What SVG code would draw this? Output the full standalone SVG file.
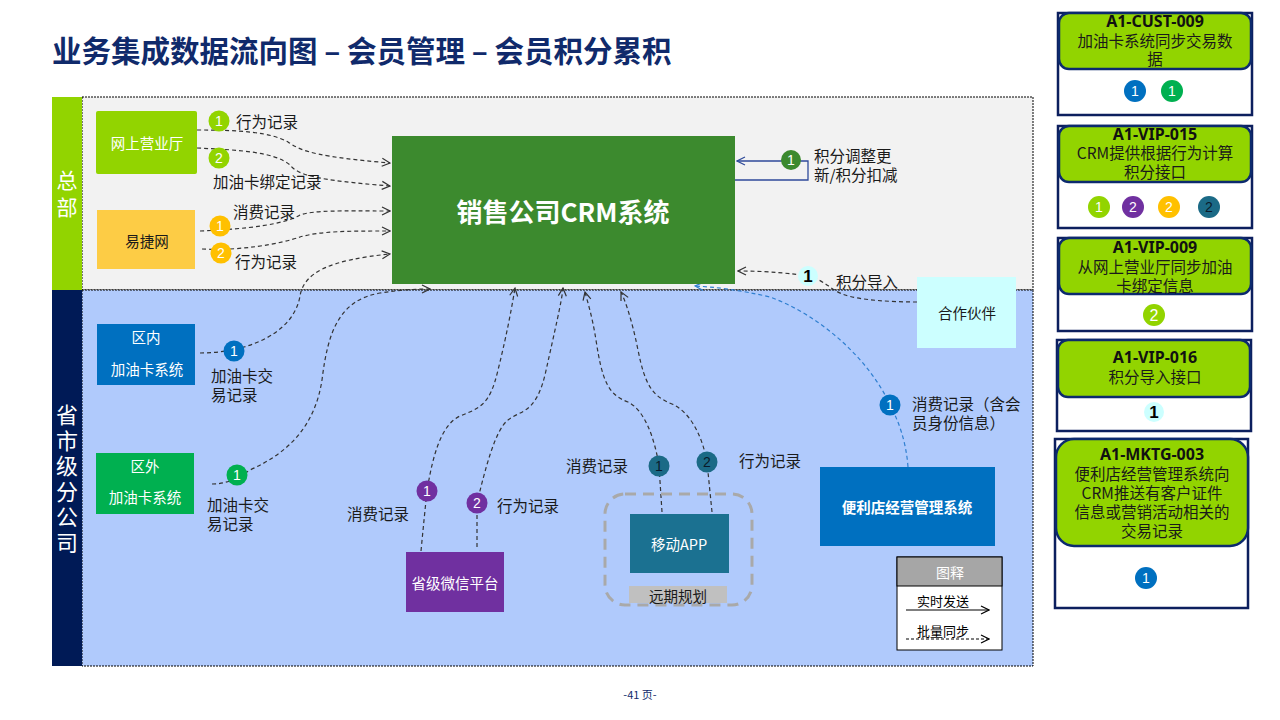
<svg xmlns="http://www.w3.org/2000/svg" width="1280" height="720" viewBox="0 0 1280 720">
<defs>
<style>
.t{font-family:"Noto Sans CJK SC","Liberation Sans",sans-serif;}
.lbl{font-family:"Noto Sans CJK SC","Liberation Sans",sans-serif;font-size:15.5px;fill:#1a1a1a;}
.nl{font-family:"Noto Sans CJK SC","Liberation Sans",sans-serif;font-size:14.5px;fill:#ffffff;text-anchor:middle;dominant-baseline:central;}
.bn{font-family:"Liberation Sans","Noto Sans",sans-serif;font-size:14px;fill:#ffffff;text-anchor:middle;dominant-baseline:central;}
.dash{fill:none;stroke:#333;stroke-width:1.2;stroke-dasharray:4 3;marker-end:url(#ah);}
.ct{font-family:"Noto Sans CJK SC","Liberation Sans",sans-serif;font-size:15.5px;fill:#1a1a1a;text-anchor:middle;}
.ch{font-family:"Noto Sans","Liberation Sans",sans-serif;font-size:16px;font-weight:bold;fill:#111;text-anchor:middle;dominant-baseline:central;}
.cardo{fill:#fff;stroke:#0c1f5e;stroke-width:2.5;}
.cardh{fill:#92d400;stroke:#0c2a6e;stroke-width:2.5;}
</style>
<marker id="ah" viewBox="0 0 10 10" refX="9" refY="5" markerWidth="10" markerHeight="10" markerUnits="userSpaceOnUse" orient="auto"><path d="M1,1 L9,5 L1,9" fill="none" stroke="#333" stroke-width="1.2"/></marker>
<marker id="ahb" viewBox="0 0 10 10" refX="9" refY="5" markerWidth="10" markerHeight="10" markerUnits="userSpaceOnUse" orient="auto"><path d="M1,1 L9,5 L1,9" fill="none" stroke="#2f7fd0" stroke-width="1.2"/></marker>
<marker id="ahn" viewBox="0 0 10 10" refX="9" refY="5" markerWidth="10" markerHeight="10" markerUnits="userSpaceOnUse" orient="auto"><path d="M1,1 L9,5 L1,9" fill="none" stroke="#2f4a9a" stroke-width="1.2"/></marker>
<marker id="ahk" viewBox="0 0 10 10" refX="9" refY="5" markerWidth="10" markerHeight="10" markerUnits="userSpaceOnUse" orient="auto"><path d="M1,1 L9,5 L1,9" fill="none" stroke="#000" stroke-width="1.2"/></marker>
</defs>
<rect width="1280" height="720" fill="#ffffff"/>

<!-- title -->
<text x="52" y="62" class="t" font-size="29.5" font-weight="bold" fill="#102a6b">业务集成数据流向图 – 会员管理 – 会员积分累积</text>

<!-- lanes -->
<g id="lanes">
<rect x="82" y="97" width="951" height="193" fill="#f2f2f2" stroke="#000" stroke-width="1" stroke-dasharray="2 1"/>
<rect x="82" y="290" width="951" height="376" fill="#b0cafc" stroke="#000" stroke-width="1" stroke-dasharray="2 1"/>
<rect x="52" y="97" width="30" height="193" fill="#92d400"/>
<rect x="52" y="290" width="30" height="376" fill="#001a56"/>
<text x="67" y="188" class="t" font-size="21" fill="#fff" text-anchor="middle"><tspan x="67">总</tspan><tspan x="67" dy="27">部</tspan></text>
<text x="67" y="423" class="t" font-size="22" fill="#fff" text-anchor="middle"><tspan x="67">省</tspan><tspan x="67" dy="25.5">市</tspan><tspan x="67" dy="25.5">级</tspan><tspan x="67" dy="25.5">分</tspan><tspan x="67" dy="25.5">公</tspan><tspan x="67" dy="25.5">司</tspan></text>
</g>

<!-- connectors -->
<g id="connectors">
<path class="dash" d="M197,130 C240,130 270,132 288,142 C302,152 320,157 390,163"/>
<path class="dash" d="M197,148 C240,150 275,152 290,165 C298,175 315,180 390,186"/>
<path class="dash" d="M200,231 C250,229 285,224 300,215 C315,210 340,211 390,211"/>
<path class="dash" d="M202,249 C240,251 280,244 300,237 C320,231 350,231 390,231"/>
<path class="dash" d="M200,353 C215,353 230,351 244,347 C275,338 296,320 300,296 C304,272 330,260 390,254"/>
<path class="dash" d="M212,484 C225,484 235,480 250,470 C290,452 315,425 322,380 C328,330 340,300 380,293 C400,290 415,289 430,289"/>
<path class="dash" d="M421,551 C423,530 425,510 427,491 C432,460 440,425 460,416 C480,408 490,405 498,370 C508,330 513,300 515,288"/>
<path class="dash" d="M477,547 C477,530 477,515 477,503 C485,470 495,430 508,420 C520,410 535,415 545,375 C555,330 562,300 563,288"/>
<path class="dash" d="M662,512 L659,466 C655,440 645,410 628,402 C608,395 602,380 596,340 C592,315 587,300 585,292"/>
<path class="dash" d="M712,512 L707,462 C702,435 690,412 672,404 C652,396 645,385 638,350 C632,320 625,300 621,292"/>
<path d="M908,467 C906,440 898,420 890,405 C870,360 820,315 770,297 C740,290 715,287 695,286" fill="none" stroke="#2f7fd0" stroke-width="1.2" stroke-dasharray="4 3" marker-end="url(#ahb)"/>
<path class="dash" d="M917,302 C890,302 860,300 845,295 C830,290 825,280 808,276 C780,272 760,271 738,271"/>
<path d="M735,180 L808,180 L808,161 L737,161" fill="none" stroke="#2f4a9a" stroke-width="1.3" marker-end="url(#ahn)"/>
</g>

<!-- nodes -->
<g id="n-wsyyt"><rect x="96" y="111" width="101" height="63" rx="2" fill="#92d400"/><text x="147" y="142" class="nl">网上营业厅</text></g>
<g id="n-yjw"><rect x="97" y="210" width="98" height="59" fill="#fdcc45"/><text x="147" y="240" class="nl" style="fill:#1a1a1a">易捷网</text></g>
<g id="n-crm"><rect x="392" y="136" width="343" height="148" fill="#3c8a2e"/><text x="563" y="210" class="t" font-size="26" font-weight="bold" fill="#fff" text-anchor="middle" dominant-baseline="central">销售公司CRM系统</text></g>
<g id="n-partner"><rect x="917" y="277" width="99" height="71" fill="#ccffff"/><text x="967" y="312" class="nl" style="fill:#1a1a1a">合作伙伴</text></g>
<g id="n-qn"><rect x="97" y="324" width="98" height="61" fill="#0070c0"/><text x="146" y="343" class="nl" style="dominant-baseline:auto"><tspan x="146">区内</tspan><tspan x="147" dy="32">加油卡系统</tspan></text></g>
<g id="n-qw"><rect x="96" y="453" width="98" height="61" fill="#00b050"/><text x="145" y="472" class="nl" style="dominant-baseline:auto"><tspan x="145">区外</tspan><tspan x="145" dy="31">加油卡系统</tspan></text></g>
<g id="n-wx"><rect x="406" y="552" width="98" height="60" fill="#7030a0"/><text x="455" y="582" class="nl">省级微信平台</text></g>
<g id="n-app">
<rect x="605" y="494" width="147" height="111" rx="20" fill="none" stroke="#a9a9a9" stroke-width="3" stroke-dasharray="11 7"/>
<rect x="630" y="514" width="99" height="59" fill="#1b7191"/><text x="679" y="543" class="nl">移动APP</text>
<rect x="629" y="586" width="98" height="17" fill="#c0c0c0"/><text x="678" y="595" class="nl" style="fill:#1a1a1a">远期规划</text>
</g>
<g id="n-bld"><rect x="820" y="467" width="175" height="79" fill="#0070c0"/><text x="907" y="506" class="nl" font-weight="bold">便利店经营管理系统</text></g>

<!-- badges and labels -->
<g id="labels">
<circle cx="219" cy="121" r="10.5" fill="#92d400"/><text x="219" y="121" class="bn">1</text>
<text x="236" y="128" class="lbl">行为记录</text>
<circle cx="219" cy="158" r="10.5" fill="#92d400"/><text x="219" y="158" class="bn">2</text>
<text x="213" y="188" class="lbl">加油卡绑定记录</text>
<circle cx="220" cy="226" r="10.5" fill="#ffc000"/><text x="220" y="226" class="bn">1</text>
<text x="233" y="218" class="lbl">消费记录</text>
<circle cx="221" cy="253" r="10.5" fill="#ffc000"/><text x="221" y="253" class="bn">2</text>
<text x="235" y="268" class="lbl">行为记录</text>
<circle cx="791" cy="160" r="10" fill="#3c8a2e"/><text x="791" y="160" class="bn">1</text>
<text x="814" y="162" class="lbl"><tspan x="814">积分调整更</tspan><tspan x="814" dy="19">新/积分扣减</tspan></text>
<circle cx="808" cy="276" r="10" fill="#ccffff"/><text x="808" y="276" class="bn" style="fill:#000;font-weight:bold;font-size:17px">1</text>
<text x="836" y="288" class="lbl">积分导入</text>
<circle cx="234" cy="351" r="10.5" fill="#0070c0"/><text x="234" y="351" class="bn">1</text>
<text x="211" y="382" class="lbl"><tspan x="211">加油卡交</tspan><tspan x="211" dy="19">易记录</tspan></text>
<circle cx="237" cy="475" r="10.5" fill="#00b050"/><text x="237" y="475" class="bn">1</text>
<text x="207" y="511" class="lbl"><tspan x="207">加油卡交</tspan><tspan x="207" dy="19">易记录</tspan></text>
<circle cx="427" cy="491" r="10.5" fill="#7030a0"/><text x="427" y="491" class="bn">1</text>
<text x="347" y="520" class="lbl">消费记录</text>
<circle cx="477" cy="503" r="10.5" fill="#7030a0"/><text x="477" y="503" class="bn">2</text>
<text x="497" y="512" class="lbl">行为记录</text>
<circle cx="659" cy="466" r="10.5" fill="#1b6a86"/><text x="659" y="466" class="bn" style="fill:#0a1a2a">1</text>
<text x="566" y="472" class="lbl">消费记录</text>
<circle cx="707" cy="462" r="10.5" fill="#1b6a86"/><text x="707" y="462" class="bn" style="fill:#0a1a2a">2</text>
<text x="739" y="467" class="lbl">行为记录</text>
<circle cx="890" cy="405" r="10.5" fill="#0070c0"/><text x="890" y="405" class="bn">1</text>
<text x="912" y="410" class="lbl"><tspan x="912">消费记录（含会</tspan><tspan x="912" dy="19">员身份信息）</tspan></text>
</g>

<!-- legend -->
<g id="legend">
<rect x="897" y="557" width="105" height="93" fill="#fff" stroke="#000" stroke-width="1"/>
<rect x="897" y="557" width="105" height="29" fill="#a6a6a6" stroke="#000" stroke-width="1"/>
<text x="950" y="572" class="nl" style="font-size:14px">图释</text>
<text x="943" y="600" class="nl" style="fill:#000;font-size:13px">实时发送</text>
<line x1="906" y1="610" x2="989" y2="610" stroke="#000" stroke-width="1.2" marker-end="url(#ahk)"/>
<text x="943" y="630" class="nl" style="fill:#000;font-size:13px">批量同步</text>
<line x1="906" y1="639" x2="989" y2="639" stroke="#000" stroke-width="1" stroke-dasharray="3 2" marker-end="url(#ahk)"/>
</g>

<!-- side cards -->
<g id="card1">
<rect x="1058" y="13" width="194" height="102" class="cardo"/>
<rect x="1059" y="13" width="192" height="56" rx="10" class="cardh"/>
<text x="1155" y="21" class="ch">A1-CUST-009</text>
<text x="1155" y="47" class="ct"><tspan x="1155">加油卡系统同步交易数</tspan><tspan x="1155" dy="18">据</tspan></text>
<circle cx="1135" cy="91" r="11" fill="#0070c0"/><text x="1135" y="91" class="bn">1</text>
<circle cx="1172" cy="91" r="11" fill="#00b050"/><text x="1172" y="91" class="bn">1</text>
</g>
<g id="card2">
<rect x="1058" y="126" width="194" height="102" class="cardo"/>
<rect x="1059" y="126" width="192" height="56" rx="10" class="cardh"/>
<text x="1155" y="134" class="ch">A1-VIP-015</text>
<text x="1155" y="159" class="ct"><tspan x="1155">CRM提供根据行为计算</tspan><tspan x="1155" dy="19">积分接口</tspan></text>
<circle cx="1099" cy="207" r="11" fill="#92d400"/><text x="1099" y="207" class="bn">1</text>
<circle cx="1133" cy="207" r="11" fill="#7030a0"/><text x="1133" y="207" class="bn">2</text>
<circle cx="1169" cy="207" r="11" fill="#ffc000"/><text x="1169" y="207" class="bn">2</text>
<circle cx="1209" cy="207" r="11" fill="#1b6a86"/><text x="1209" y="207" class="bn" style="fill:#0a1a2a">2</text>
</g>
<g id="card3">
<rect x="1058" y="238" width="194" height="93" class="cardo"/>
<rect x="1059" y="238" width="192" height="56" rx="10" class="cardh"/>
<text x="1155" y="247" class="ch">A1-VIP-009</text>
<text x="1155" y="273" class="ct"><tspan x="1155">从网上营业厅同步加油</tspan><tspan x="1155" dy="19">卡绑定信息</tspan></text>
<circle cx="1154" cy="315" r="11" fill="#92d400"/><text x="1154" y="315" class="bn" style="font-size:16px">2</text>
</g>
<g id="card4">
<rect x="1057" y="340" width="194" height="91" class="cardo"/>
<rect x="1058" y="340" width="192" height="57" rx="10" class="cardh"/>
<text x="1155" y="357" class="ch">A1-VIP-016</text>
<text x="1155" y="383" class="ct">积分导入接口</text>
<circle cx="1154" cy="412" r="10" fill="#ccffff"/><text x="1154" y="412" class="bn" style="fill:#000;font-weight:bold;font-size:17px">1</text>
</g>
<g id="card5">
<rect x="1055" y="439" width="193" height="169" class="cardo"/>
<rect x="1056" y="439" width="192" height="107" rx="18" class="cardh"/>
<text x="1152" y="454" class="ch">A1-MKTG-003</text>
<text x="1152" y="480" class="ct"><tspan x="1152">便利店经营管理系统向</tspan><tspan x="1152" dy="19">CRM推送有客户证件</tspan><tspan x="1152" dy="19">信息或营销活动相关的</tspan><tspan x="1152" dy="19">交易记录</tspan></text>
<circle cx="1146" cy="578" r="11" fill="#0070c0"/><text x="1146" y="578" class="bn">1</text>
</g>

<text x="640" y="699" class="t" font-size="11" fill="#102a6b" text-anchor="middle">-41 页-</text>
</svg>
